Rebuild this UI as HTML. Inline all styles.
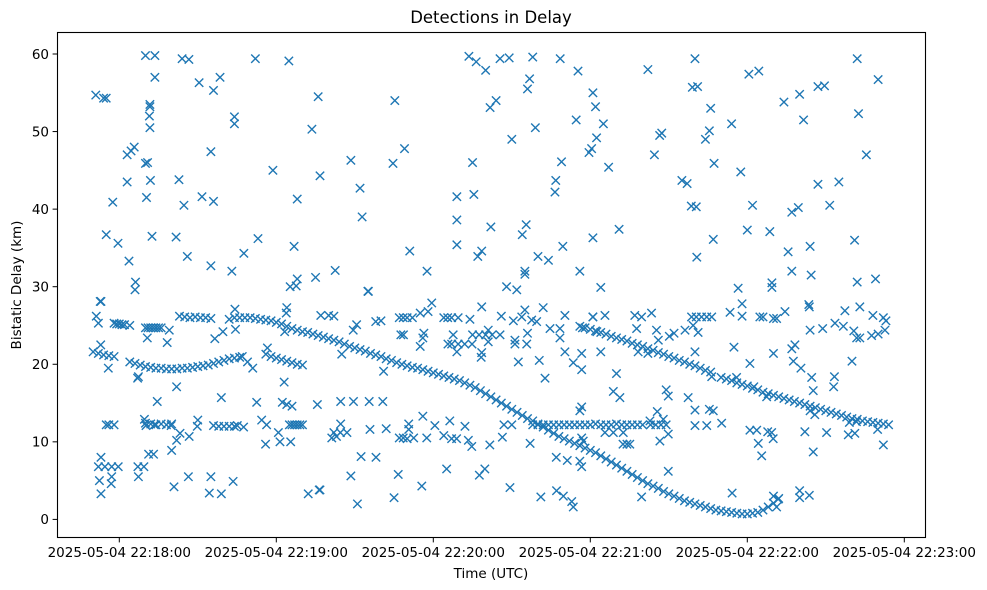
<!DOCTYPE html>
<html><head><meta charset="utf-8"><title>Detections in Delay</title>
<style>
html,body{margin:0;padding:0;background:#fff;}
svg{display:block;font-family:"DejaVu Sans","Liberation Sans",sans-serif;}
</style></head>
<body>
<svg id="chart" width="987" height="590" viewBox="0 0 987 590" xmlns="http://www.w3.org/2000/svg">
<rect x="0" y="0" width="987" height="590" fill="#fff"/>
<text x="491" y="23" text-anchor="middle" font-size="16.5" fill="#000">Detections in Delay</text>
<g id="marks"></g>
<rect x="57.5" y="32.5" width="868" height="505" fill="none" stroke="#000" stroke-width="1.1"/>
<g id="yticks"></g>
<g id="xticks"></g>
<text x="491" y="578" text-anchor="middle" font-size="13.5" fill="#000">Time (UTC)</text>
<text transform="translate(21,285) rotate(-90)" text-anchor="middle" font-size="13.5" fill="#000">Bistatic Delay (km)</text>
</svg>
<script>
// time in seconds after 22:18:00, delay in km
const yTickValues = [0, 10, 20, 30, 40, 50, 60];
const xTickSeconds = [0, 60, 120, 180, 240, 300];
const xTickLabels = ["2025-05-04 22:18:00","2025-05-04 22:19:00","2025-05-04 22:20:00","2025-05-04 22:21:00","2025-05-04 22:22:00","2025-05-04 22:23:00"];

const trackA = [[44,26.0],[46,26.0],[48,26.0],[50,26.0],[52,25.9],[54,25.8],[56,25.7],[58,25.6],[60,25.4],[62,25.2],[64,24.9],[66,24.6],[68,24.4],[70,24.2],[72,24.1],[74,23.9],[76,23.7],[78,23.5],[80,23.3],[82,23.1],[84,22.9],[86,22.6],[88,22.3],[90,22.1],[92,21.9],[94,21.7],[96,21.4],[98,21.2],[100,21.0],[102,20.7],[104,20.5],[106,20.2],[108,20.0],[110,19.8],[112,19.6],[114,19.5],[116,19.3],[118,19.1],[120,18.9],[122,18.7],[124,18.5],[126,18.3],[128,18.1],[130,17.9],[132,17.6],[134,17.3],[136,17.0],[138,16.6],[140,16.2],[142,15.8],[144,15.4],[146,15.0],[148,14.6],[150,14.2],[152,13.8],[154,13.4],[156,13.0],[158,12.7],[160,12.3],[162,11.9],[164,11.5],[166,11.1],[168,10.7],[170,10.4],[172,10.1],[174,9.8],[176,9.5],[178,9.2],[180,8.9],[182,8.6],[184,8.2],[186,7.8],[188,7.4],[190,7.0],[192,6.6],[194,6.2],[196,5.8],[198,5.4],[200,5.0],[202,4.6],[204,4.3],[206,4.0],[208,3.6],[210,3.3],[212,3.0],[214,2.7],[216,2.4],[218,2.2],[220,2.0],[222,1.8],[224,1.6],[226,1.4],[228,1.2],[230,1.1],[232,1.0],[234,0.9],[236,0.8],[238,0.7],[240,0.7],[242,0.8],[244,0.9],[246,1.2],[248,1.6],[250,2.1],[252,2.7]];

const trackB = [[176,24.9],[178,24.7],[180,24.5],[182,24.3],[184,24.1],[186,23.9],[188,23.6],[190,23.4],[192,23.2],[194,23.0],[196,22.7],[198,22.5],[200,22.3],[202,22.0],[204,21.8],[206,21.5],[208,21.3],[210,21.0],[212,20.8],[214,20.5],[216,20.3],[218,20.0],[220,19.8],[222,19.5],[224,19.2],[226,19.0],[230,18.3],[232,18.1],[234,17.9],[236,17.6],[238,17.4],[240,17.2],[242,16.9],[244,16.7],[246,16.4],[248,16.2],[250,16.0],[252,15.8],[254,15.6],[256,15.4],[258,15.2],[260,15.0],[262,14.8],[264,14.6],[266,14.4],[268,14.2],[270,14.0],[272,13.8],[274,13.6],[276,13.4],[278,13.2],[280,13.0],[282,12.9],[284,12.7],[286,12.6],[288,12.5],[290,12.4],[292,12.3],[294,12.2]];

const trackC = [[-10,21.6],[-8,21.4],[-6,21.2],[-4,21.1],[-2,21.0],[4,20.3],[6,20.1],[8,19.9],[10,19.7],[12,19.6],[14,19.5],[16,19.5],[18,19.4],[20,19.4],[22,19.4],[24,19.5],[26,19.5],[28,19.6],[30,19.7],[32,19.8],[34,19.9],[36,20.1],[38,20.3],[40,20.5],[42,20.7],[44,20.8],[46,20.9],[56,21.3],[58,21.0],[60,20.8],[62,20.6],[64,20.4],[66,20.2],[68,20.0],[70,19.9]];

const trackD = [[-2,25.3],[-1,25.2],[0,25.2],[1,25.1],[2,25.1],[4,25.0],[10,24.7],[11,24.7],[12,24.7],[13,24.7],[14,24.7],[15,24.7],[16,24.7],[23,26.2],[25,26.1],[27,26.0],[29,26.1],[31,26.0],[33,26.0],[35,25.9]];

const trackE = [[-5,12.2],[-4,12.2],[-2,12.2],[10,12.4],[12,12.3],[14,12.2],[16,12.3],[18,12.2],[20,12.3],[36,12.1],[38,12.0],[40,12.0],[42,12.0],[44,12.0],[65,12.2],[66,12.2],[67,12.2],[68,12.2],[69,12.2],[70,12.2],[147,12.2],[150,12.2],[158,12.2],[160,12.2],[162,12.2],[164,12.2],[166,12.2],[168,12.2],[170,12.2],[172,12.2],[174,12.2],[176,12.2],[178,12.2],[180,12.2],[182,12.3],[184,12.2],[186,12.2],[188,12.2],[190,12.3],[192,12.2],[194,12.2],[196,12.2],[198,12.2],[200,12.2],[203,12.2],[205,12.2],[207,12.2],[209,12.2]];

const outliers = [[-9,54.7],[-6,54.3],[-5,54.3],[-7,28.1],[-5,36.7],[-2.5,40.9],[-0.5,35.6],[3.7,33.3],[3,43.5],[3,47],[4.5,47.5],[5.7,48],[6,29.6],[6.2,30.6],[10,45.9],[10.8,46],[10.4,41.5],[10,59.8],[13.6,59.8],[11.7,53.5],[11.7,53.2],[11.5,52],[11.7,50.5],[11.9,43.7],[12.5,36.5],[13.6,57],[21.7,36.4],[22.8,43.8],[24,59.4],[26.6,59.3],[24.7,40.5],[26,33.9],[30.5,56.3],[31.6,41.6],[35,47.4],[35,32.7],[36,55.3],[36,41],[38.5,57],[44,51.9],[44,51],[43,32],[47.6,34.3],[52,59.4],[53,36.2],[58.7,45],[64.8,59.1],[66.8,35.2],[68,41.3],[68,31],[67.6,30.1],[73.6,50.3],[76,54.5],[76.7,44.3],[75,31.2],[82.5,32.1],[88.5,46.3],[92,42.7],[92.8,39],[95,29.4],[104.6,45.9],[105.3,54],[109,47.8],[111,34.6],[117.6,32],[129,41.6],[129,35.4],[129,38.6],[133.6,59.7],[136.4,59],[140,57.9],[135,46],[135.5,41.9],[137,33.9],[138.5,34.6],[142,37.7],[141.7,53.1],[144,54],[145.5,59.4],[149,59.5],[148,30],[150,49],[154,36.7],[155.5,38],[155,31.6],[155,32],[156,55.5],[156.8,56.8],[158,59.6],[159,50.5],[160,33.9],[164,33.4],[166.5,42.2],[166.8,43.7],[169,46.1],[168.5,59.4],[169.5,35.2],[174.6,51.5],[175.3,57.8],[176,32],[179.5,47.3],[180.5,47.8],[181,36.3],[181,55],[182,53.2],[182.4,49.2],[184,29.9],[185,51],[187,45.4],[191,37.4],[202,58],[204.5,47],[206.5,49.5],[207.3,49.8],[215,43.7],[217,43.3],[218.6,40.4],[220.5,40.3],[219,55.7],[221,55.8],[220,59.4],[220.7,33.8],[224,49],[225.5,50.1],[226,53],[227,36.1],[227.3,45.9],[234,51],[236.5,29.8],[237.5,44.8],[240,37.3],[240.6,57.4],[244.4,57.8],[242,40.5],[248.6,37.1],[249.4,30.5],[249.4,29.9],[254,53.8],[255.6,34.5],[257,39.6],[259.5,40.2],[257,32],[260,54.8],[261.5,51.5],[264,35.2],[264.4,31.5],[263.5,27.7],[267,55.8],[269.5,55.9],[267,43.2],[271.5,40.5],[275,43.5],[273,17.1],[281,36],[282,59.4],[282.5,52.3],[282,30.6],[285.5,47],[289,31],[290,56.7],[283,23.4],[281.8,23.4],
[-7.3,28.1],[-8.8,26.2],[-8,25.3],[-7.1,22.5],[-4.2,19.5],[7.3,18.4],[7,18.2],[19.1,24.4],[18.3,22.8],[10.7,23.4],[21.9,17.1],[14.5,15.2],[39,15.7],[52.5,15.1],[62.3,15.1],[64,14.8],[66,14.6],[75.7,14.8],[63,17.7],[36.5,23.3],[39.6,24.2],[42,25.8],[44.2,27.1],[44.4,24.5],[47,21],[49,20.3],[51,19.5],[56.6,22.1],[63.2,24.2],[64,27.3],[63.8,26.6],[65.3,30],[9.6,12.9],[10.2,12.1],[13.4,12.2],[19.8,12.1],[30,12.8],[29.8,12.0],[45.1,12.1],[47.5,11.9],[23.2,11.1],[21.9,10.2],[20,8.9],[26.7,10.7],[11.2,8.4],[13.1,8.4],[9.4,6.8],[-7,8.0],[-8,6.8],[-5.5,6.8],[-2.9,6.8],[-0.4,6.8],[-7.6,5.0],[-2.9,5.5],[-3.1,4.6],[-7,3.3],[7.1,6.8],[7.3,5.5],[20.9,4.2],[26.4,5.5],[35,5.5],[34.4,3.4],[39,3.3],[43.5,4.9],[55.9,9.7],[54.4,12.8],[56.3,12.2],[60.8,11.2],[61.4,10],[65.5,10],[72.2,3.3],[76.4,3.8],[81.2,10.5],[83,10.7],
[95.2,29.4],[151.9,29.6],[119.4,27.9],[138.5,27.4],[77,26.3],[80,26.3],[82,26.2],[89.4,24.4],[90.7,25.1],[98,25.5],[100,25.6],[107,26],[108.5,26],[110,26],[112,26],[115,26.6],[118,26.8],[124,26],[125.5,26],[127,26],[129.5,26],[134,25.8],[146,26.2],[150.6,25.6],[153.8,26.1],[155,27],[157.6,25.7],[159.5,25.5],[162,27.3],[170.3,26.3],[181,26.1],[107.6,23.8],[108.6,23.8],[115,22.3],[116,23.4],[116.4,24],[127.6,23.8],[135,23.8],[137.5,23.8],[140,23.8],[142.5,23.8],[145.5,23.8],[141,24.4],[141,22.9],[156,24],[164.6,24.6],[168.4,24.6],[168.4,23.4],[177,24.7],[182.5,24.2],[125.6,22.6],[127,22.6],[129.5,22.6],[132,22.6],[134.8,22.6],[129,21.6],[138.5,21.5],[138.3,20.9],[151.2,23.1],[151.2,22.6],[155.7,22.6],[152.5,20.3],[160.5,20.5],[162.7,18.2],[170.3,21.6],[176.7,21.4],[173.5,20.2],[85,21.3],[101,19.1],[84.6,15.2],[89.5,15.2],[95.5,15.2],[100.7,15.2],[84.6,12.3],[82,11.2],[84.5,11.2],[87,11.2],[95.8,11.6],[102,11.7],[107,10.5],[108.5,10.5],[110,10.4],[112.5,10.5],[110.6,12.3],[110.6,11.6],[116,13.3],[117.5,10.5],[120.6,12.1],[124,10.8],[126.3,12.7],[127,10.4],[128.9,10.4],[132.1,12],[133.4,10.2],[134.7,9.4],[141.6,9.6],[146.4,10.6],[157,9.8],[167,8.0],[171.2,7.6],[176,7.5],[176,14.0],[176.7,10.5],[177.3,10.1],[92.4,8.1],[98.1,8.0],[88.5,5.6],[106.6,5.8],[125.1,6.5],[139.7,6.5],[137.6,5.7],[91,2],[105,2.8],[115.6,4.3],[149.3,4.1],[161.1,2.9],[167.1,3.7],[169.7,3.0],[172.9,2.3],[173.5,1.6],[76.7,3.8],
[181,26.1],[185.6,26.3],[197,26.3],[199.6,26.1],[203.4,26.6],[218.7,26.1],[220.5,26.1],[222.5,26.1],[224.5,26.1],[226.4,26.1],[219.3,25],[233.4,26.7],[238,27.8],[238,26.2],[244.8,26.1],[246,26.1],[250,25.9],[251.2,25.9],[254.4,26.8],[263.7,27.4],[264,24.4],[268.8,24.6],[273.5,25.3],[277.3,26.9],[276.7,24.9],[280.7,24.3],[283,27.4],[288,26.3],[292,26],[293,25.6],[287.5,23.7],[290,23.9],[292.6,24.4],[197.7,24.6],[205.3,24.4],[206,23.1],[210.2,23.6],[212,24],[216.2,24.4],[221.2,24.1],[198.3,21.6],[202,21.4],[184,21.6],[190,18.8],[220,21.6],[234.9,22.2],[250,21.4],[257,22.0],[258.2,22.5],[257.6,20.4],[260.5,19.5],[280,20.4],[264.6,18.3],[273.3,18.4],[226.4,18.4],[235.9,18.3],[241,20.1],[242.5,17.1],[247.4,15.8],[188.8,16.5],[191.3,15.7],[209,16.7],[209.8,15.9],[217.4,15.7],[265.2,16.6],[264,14.0],[265.8,13.5],[220,14.1],[225.5,14.2],[227,14],[202.8,12.7],[205.6,13.9],[207.9,12.9],[220,12.1],[224.5,12.1],[230.2,12.4],[241,11.5],[243.6,11.5],[247.8,11.3],[249.9,10.4],[244.2,9.8],[245.5,8.2],[249.3,11.2],[262,11.3],[265.2,8.7],[270.3,11.2],[278.6,10.9],[281.1,11.1],[281.7,12.6],[279,12.5],[289.8,11.6],[292,9.6],[206.6,10.1],[209.8,11.0],[185.6,11.2],[188.8,11.2],[192.6,11.2],[192.5,9.7],[194,9.7],[195.1,9.7],[209.8,6.2],[199.6,2.9],[234.2,3.4],[260,3.7],[260,2.8],[263.7,3.1],[250,3.0],[251.8,2.6],[251.2,1.6],[176.7,19.3],[176.7,14.5],[176.7,6.8]];

const X0 = 119.3, PX_PER_S = 157 / 60;
const Y0 = 519.4, PX_PER_KM = (519.4 - 54) / 60;
function xScale(t) { return X0 + t * PX_PER_S; }
function yScale(d) { return Y0 - d * PX_PER_KM; }

const NS = "http://www.w3.org/2000/svg";
const marks = document.getElementById("marks");
const R = 4.2;
function drawSeries(arr, name) {
  for (const p of arr) {
    const cx = xScale(p[0]), cy = yScale(p[1]);
    const path = document.createElementNS(NS, "path");
    path.setAttribute("d", `M${(cx-R).toFixed(2)},${(cy-R).toFixed(2)}L${(cx+R).toFixed(2)},${(cy+R).toFixed(2)}M${(cx-R).toFixed(2)},${(cy+R).toFixed(2)}L${(cx+R).toFixed(2)},${(cy-R).toFixed(2)}`);
    path.setAttribute("stroke", "#1f77b4");
    path.setAttribute("stroke-width", "1.4");
    path.setAttribute("fill", "none");
    
    
    marks.appendChild(path);
  }
}
drawSeries(trackA, "detection-point");
drawSeries(trackB, "detection-point");
drawSeries(trackC, "detection-point");
drawSeries(trackD, "detection-point");
drawSeries(trackE, "detection-point");
drawSeries(outliers, "detection-point");

const yg = document.getElementById("yticks");
for (const v of yTickValues) {
  const y = yScale(v);
  const ln = document.createElementNS(NS, "line");
  ln.setAttribute("x1", 52.6); ln.setAttribute("x2", 57.5);
  ln.setAttribute("y1", y); ln.setAttribute("y2", y);
  ln.setAttribute("stroke", "#000"); ln.setAttribute("stroke-width", "1");
  
  
  yg.appendChild(ln);
  const tx = document.createElementNS(NS, "text");
  tx.setAttribute("x", 49); tx.setAttribute("y", y + 4.8);
  tx.setAttribute("text-anchor", "end"); tx.setAttribute("font-size", "13.5");
  tx.textContent = String(v);
  
  
  yg.appendChild(tx);
}
const xg = document.getElementById("xticks");
xTickSeconds.forEach((s, i) => {
  const x = xScale(s);
  const ln = document.createElementNS(NS, "line");
  ln.setAttribute("x1", x); ln.setAttribute("x2", x);
  ln.setAttribute("y1", 537.5); ln.setAttribute("y2", 542.4);
  ln.setAttribute("stroke", "#000"); ln.setAttribute("stroke-width", "1");
  
  
  xg.appendChild(ln);
  const tx = document.createElementNS(NS, "text");
  tx.setAttribute("x", x); tx.setAttribute("y", 557);
  tx.setAttribute("text-anchor", "middle"); tx.setAttribute("font-size", "13.5");
  tx.textContent = xTickLabels[i];
  
  
  xg.appendChild(tx);
});
</script>
</body></html>
